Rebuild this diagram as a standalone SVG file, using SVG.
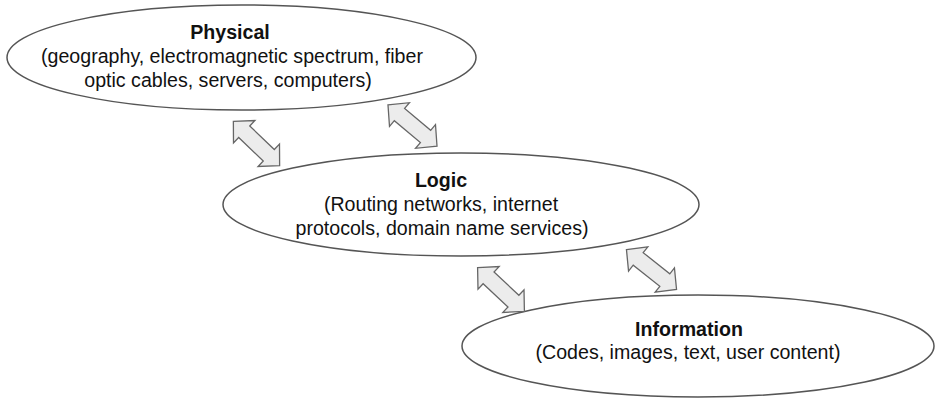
<svg xmlns="http://www.w3.org/2000/svg" width="935" height="399" viewBox="0 0 935 399">
<defs>
<style>
.node ellipse{fill:#fff;stroke:#555;stroke-width:1.5}
text{font-family:"Liberation Sans",Arial,sans-serif;font-size:19.6px;fill:#111;text-anchor:middle}
.t{font-weight:bold}
.arr{fill:#ececec;stroke:#666;stroke-width:1.3;stroke-linejoin:miter}
</style>
<path id="darrow" d="M -32 0 L -17 -15.5 L -17 -8 L 17 -8 L 17 -15.5 L 32 0 L 17 15.5 L 17 8 L -17 8 L -17 15.5 Z"/>
</defs>
<rect width="935" height="399" fill="#fff"/>
<g id="physical" class="node">
<ellipse cx="241.5" cy="57.5" rx="234.5" ry="52.5"/>
<text class="t" x="230" y="39">Physical</text>
<text x="232" y="63">(geography, electromagnetic spectrum, fiber</text>
<text x="228" y="87">optic cables, servers, computers)</text>
</g>
<g id="logic" class="node">
<ellipse cx="461" cy="204.5" rx="238" ry="51.5"/>
<text class="t" x="441" y="187">Logic</text>
<text x="441" y="211">(Routing networks, internet</text>
<text x="442" y="235">protocols, domain name services)</text>
</g>
<g id="information" class="node">
<ellipse cx="698" cy="346" rx="236" ry="51"/>
<text class="t" x="689" y="336">Information</text>
<text x="688" y="359">(Codes, images, text, user content)</text>
</g>
<g id="connectors">
<use href="#darrow" class="arr" transform="translate(256.5 143.5) rotate(43.7)"/>
<use href="#darrow" class="arr" transform="translate(412.5 125.5) rotate(40)"/>
<use href="#darrow" class="arr" transform="translate(501 289.5) rotate(43)"/>
<use href="#darrow" class="arr" transform="translate(651.5 269.5) rotate(38.5)"/>
</g>
</svg>
